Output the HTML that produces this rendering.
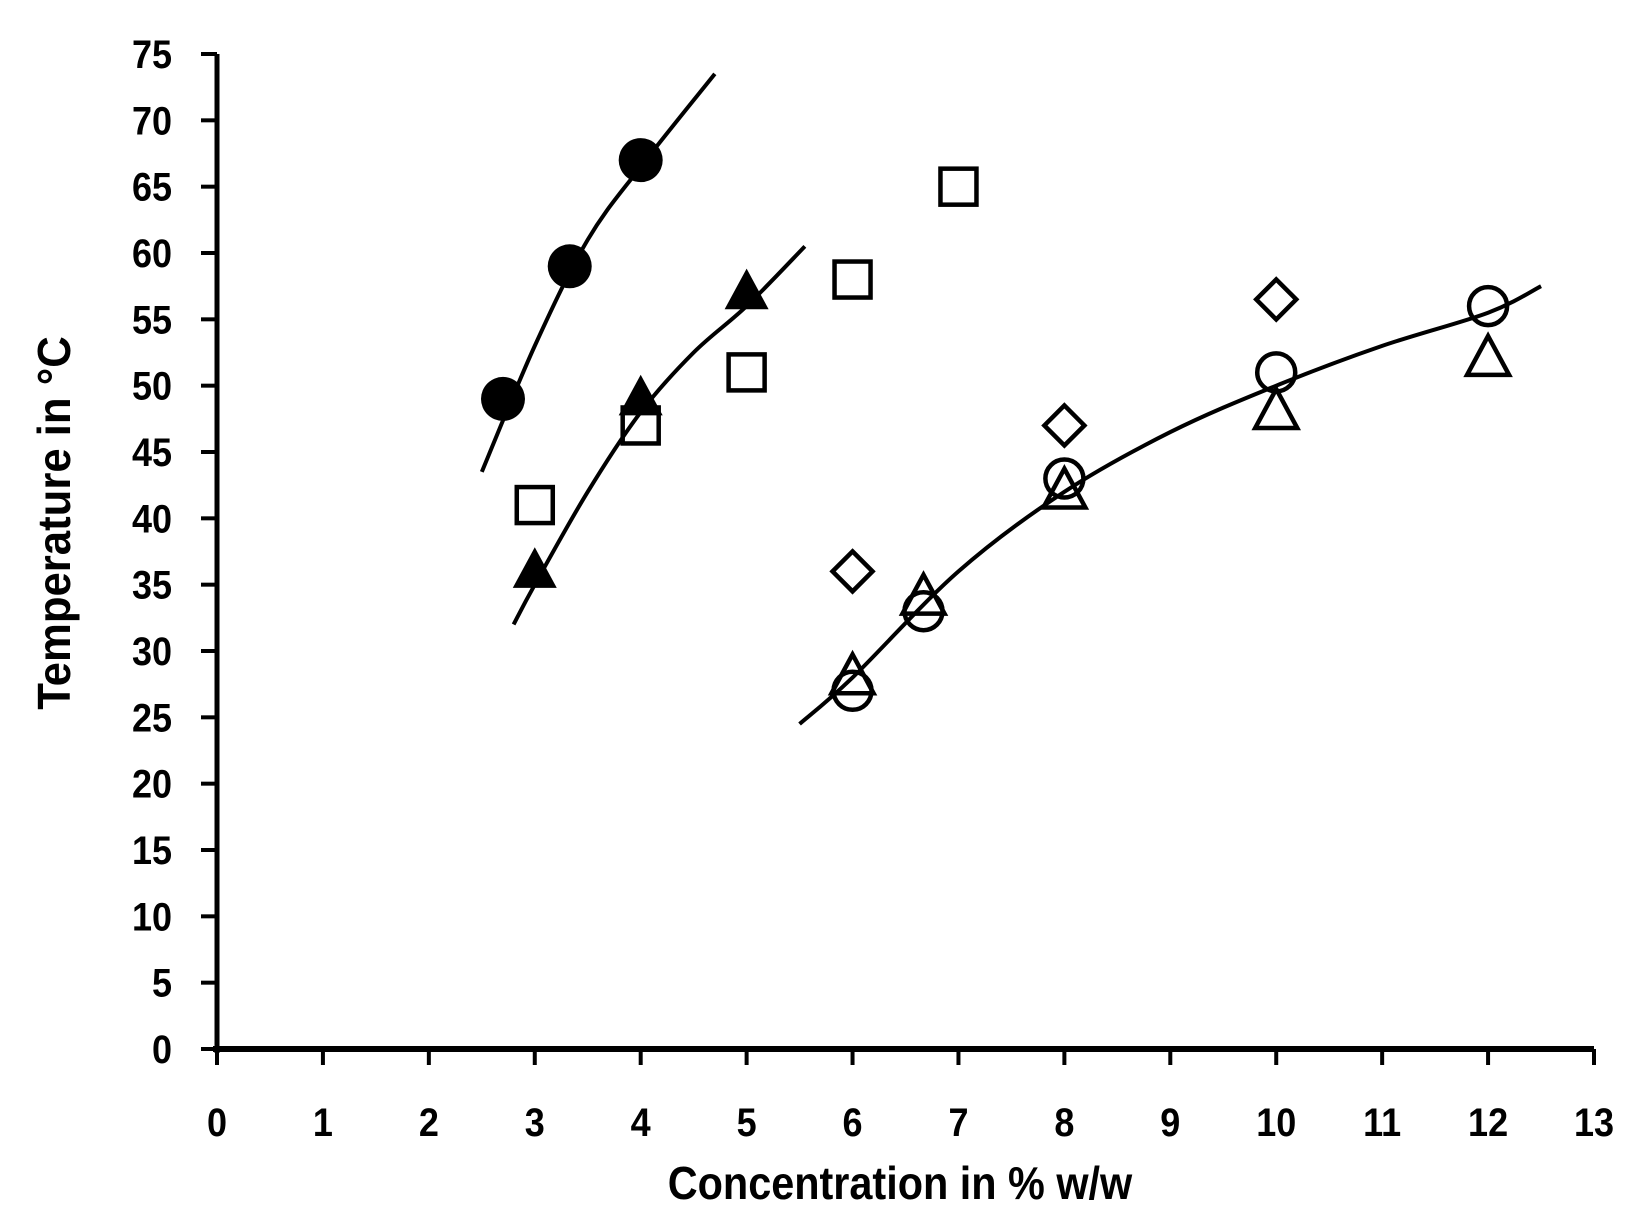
<!DOCTYPE html>
<html><head><meta charset="utf-8"><style>
html,body{margin:0;padding:0;background:#fff}
svg text{font-family:"Liberation Sans",sans-serif;font-weight:bold;fill:#000}
</style></head><body>
<svg id="chart" width="1632" height="1225" viewBox="0 0 1632 1225" xmlns="http://www.w3.org/2000/svg">
<g id="axes"></g>
<g id="curves"></g>
<g id="marks"></g>
<text x="0" y="0" font-size="46" text-anchor="middle" transform="translate(900 1199) scale(0.9 1)">Concentration in % w/w</text>
<text x="0" y="0" font-size="46" text-anchor="middle" transform="translate(70 523) rotate(-90) scale(0.95 1)">Temperature in °C</text>
</svg>
<script>
const xTicks=[0,1,2,3,4,5,6,7,8,9,10,11,12,13];
const yTicks=[0,5,10,15,20,25,30,35,40,45,50,55,60,65,70,75];
const filledCircleX=[2.7,3.33,4];
const filledCircleY=[49,59,67];
const filledTriX=[3,4,5];
const filledTriY=[36,49,57];
const openSquareX=[3,4,5,6,7];
const openSquareY=[41,47,51,58,65];
const diamondX=[6,8,10];
const diamondY=[36,47,56.5];
const openCircleX=[6,6.67,8,10,12];
const openCircleY=[27,33,43,51,56];
const openTriX=[6,6.67,8,10,12];
const openTriY=[28,34,42,48,52];
const fit1X=[2.5,3,3.5,4,4.7];
const fit1Y=[43.5,53,61,66.5,73.5];
const fit2X=[2.8,3,3.5,4,4.5,5,5.55];
const fit2Y=[32,35,42,48,52.5,56,60.5];
const fit3X=[5.5,6,7,8,9,10,11,12,12.5];
const fit3Y=[24.5,28,36,42,46.5,50,53,55.5,57.5];

const NS="http://www.w3.org/2000/svg";
const X0=217,X1=1594,Y0=1049,Y1=54;
function sx(v){return X0+(v-0)/(13-0)*(X1-X0);}
function sy(v){return Y0-(v-0)/(75-0)*(Y0-Y1);}
function mk(tag,attrs,parent){const e=document.createElementNS(NS,tag);for(const k in attrs)e.setAttribute(k,attrs[k]);parent.appendChild(e);return e;}
const axes=document.getElementById('axes'),curves=document.getElementById('curves'),marks=document.getElementById('marks');

let l=mk('line',{x1:X0,y1:Y1,x2:X0,y2:Y0+4,stroke:'#000','stroke-width':5},axes);


l=mk('line',{x1:X0-4,y1:Y0,x2:X1,y2:Y0,stroke:'#000','stroke-width':6},axes);


xTicks.forEach(v=>{
  const t=mk('line',{x1:sx(v),y1:Y0,x2:sx(v),y2:Y0+16,stroke:'#000','stroke-width':4},axes);
  
  
  const tx=mk('text',{x:0,y:0,'font-size':40,'text-anchor':'middle',transform:'translate('+sx(v)+' 1136) scale(0.9 1)'},axes);
  tx.textContent=v;
  
  
});
yTicks.forEach(v=>{
  const t=mk('line',{x1:X0-16,y1:sy(v),x2:X0,y2:sy(v),stroke:'#000','stroke-width':4},axes);
  
  
  const tx=mk('text',{x:0,y:0,'font-size':40,'text-anchor':'end',transform:'translate(172 '+(sy(v)+14)+') scale(0.9 1)'},axes);
  tx.textContent=v;
  
  
});
function smooth(xs,ys){
  const p=xs.map((x,i)=>[sx(x),sy(ys[i])]);
  let d='M'+p[0][0]+','+p[0][1];
  for(let i=0;i<p.length-1;i++){
    const a=p[Math.max(0,i-1)],b=p[i],c=p[i+1],e=p[Math.min(p.length-1,i+2)];
    d+=' C'+(b[0]+(c[0]-a[0])/6)+','+(b[1]+(c[1]-a[1])/6)+' '+(c[0]-(e[0]-b[0])/6)+','+(c[1]-(e[1]-b[1])/6)+' '+c[0]+','+c[1];
  }
  return d;
}
[[fit1X,fit1Y,'fit-curve-filled-circles'],[fit2X,fit2Y,'fit-curve-filled-triangles'],[fit3X,fit3Y,'fit-curve-open-series']].forEach(f=>{
  const p=mk('path',{d:smooth(f[0],f[1]),fill:'none',stroke:'#000','stroke-width':4},curves);
  
  
});
function circ(xs,ys,fill,name){xs.forEach((x,i)=>{
  const c=mk('circle',{cx:sx(x),cy:sy(ys[i]),r:fill?22:19,fill:fill?'#000':'none',stroke:'#000','stroke-width':fill?0:4.5},marks);
  
  
});}
function tri(xs,ys,fill,name){xs.forEach((x,i)=>{
  const cx=sx(x),cy=sy(ys[i]),s=fill?22:21;
  const p=mk('polygon',{points:(cx)+','+(cy-s*1.1)+' '+(cx+s)+','+(cy+s*0.75)+' '+(cx-s)+','+(cy+s*0.75),fill:fill?'#000':'none',stroke:'#000','stroke-width':fill?0:4.5},marks);
  
  
});}
function sq(xs,ys,name){xs.forEach((x,i)=>{
  const r=mk('rect',{x:sx(x)-18,y:sy(ys[i])-18,width:36,height:36,fill:'none',stroke:'#000','stroke-width':4.5},marks);
  
  
});}
function dia(xs,ys,name){xs.forEach((x,i)=>{
  const cx=sx(x),cy=sy(ys[i]);
  const p=mk('polygon',{points:cx+','+(cy-20)+' '+(cx+20)+','+cy+' '+cx+','+(cy+20)+' '+(cx-20)+','+cy,fill:'none',stroke:'#000','stroke-width':4.5},marks);
  
  
});}
sq(openSquareX,openSquareY,'open-square-point');
dia(diamondX,diamondY,'open-diamond-point');
tri(openTriX,openTriY,false,'open-triangle-point');
circ(openCircleX,openCircleY,false,'open-circle-point');
circ(filledCircleX,filledCircleY,true,'filled-circle-point');
tri(filledTriX,filledTriY,true,'filled-triangle-point');
</script>
</body></html>
